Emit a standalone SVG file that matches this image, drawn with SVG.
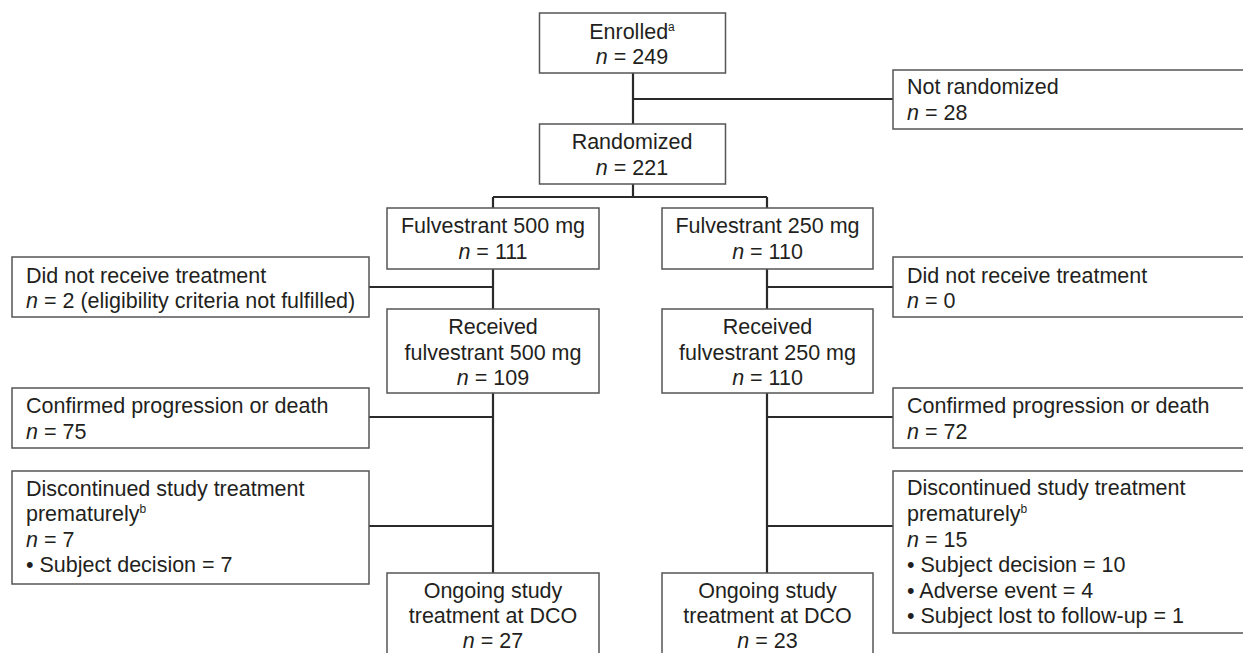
<svg xmlns="http://www.w3.org/2000/svg" width="1243" height="653" viewBox="0 0 1243 653">
<style>
.box{fill:#fff;stroke:#555;stroke-width:1.5}
.ln{stroke:#2a2a2a;stroke-width:2.2;fill:none}
text{font-family:"Liberation Sans",Arial,sans-serif;font-size:21.5px;fill:#231f20}
.c{text-anchor:middle}
.i{font-style:italic}
.sup{font-size:12px}
</style>
<rect width="1243" height="653" fill="#fff"/>
<g id="connectors">
<path class="ln" d="M633,73V124M633,99H893M633,184V197M493,197H767M493,197V208M767,197V208"/>
<path class="ln" d="M493,269V309M369,287H493M767,269V309M767,287H893"/>
<path class="ln" d="M493,393V573M369,417H493M369,526H493M767,393V573M767,417H893M767,526H893"/>
</g>
<g id="enrolled">
<rect class="box" x="539.5" y="13" width="186" height="60"/>
<text class="c" x="632" y="39">Enrolled<tspan class="sup" dy="-8">a</tspan></text>
<text class="c" x="632" y="64"><tspan class="i">n</tspan> = 249</text>
</g>
<g id="not-randomized">
<rect class="box" x="893" y="70" width="360" height="59"/>
<text x="907" y="94">Not randomized</text>
<text x="907" y="120"><tspan class="i">n</tspan> = 28</text>
</g>
<g id="randomized">
<rect class="box" x="539.5" y="124" width="186" height="60"/>
<text class="c" x="632" y="149">Randomized</text>
<text class="c" x="632" y="175"><tspan class="i">n</tspan> = 221</text>
</g>
<g id="fulv500">
<rect class="box" x="387" y="208" width="212" height="61"/>
<text class="c" x="493" y="233">Fulvestrant 500 mg</text>
<text class="c" x="493" y="259"><tspan class="i">n</tspan> = 111</text>
</g>
<g id="fulv250">
<rect class="box" x="662" y="208" width="211" height="61"/>
<text class="c" x="767.5" y="233">Fulvestrant 250 mg</text>
<text class="c" x="767.5" y="259"><tspan class="i">n</tspan> = 110</text>
</g>
<g id="no-treat-left">
<rect class="box" x="12" y="257" width="357" height="60"/>
<text x="26" y="283">Did not receive treatment</text>
<text x="26" y="308"><tspan class="i">n</tspan> = 2 (eligibility criteria not fulfilled)</text>
</g>
<g id="no-treat-right">
<rect class="box" x="893" y="257" width="360" height="60"/>
<text x="907" y="283">Did not receive treatment</text>
<text x="907" y="308"><tspan class="i">n</tspan> = 0</text>
</g>
<g id="recv500">
<rect class="box" x="387" y="309" width="212" height="84"/>
<text class="c" x="493" y="334">Received</text>
<text class="c" x="493" y="360">fulvestrant 500 mg</text>
<text class="c" x="493" y="385"><tspan class="i">n</tspan> = 109</text>
</g>
<g id="recv250">
<rect class="box" x="662" y="309" width="211" height="84"/>
<text class="c" x="767.5" y="334">Received</text>
<text class="c" x="767.5" y="360">fulvestrant 250 mg</text>
<text class="c" x="767.5" y="385"><tspan class="i">n</tspan> = 110</text>
</g>
<g id="prog-left">
<rect class="box" x="12" y="388" width="357" height="60"/>
<text x="26" y="413">Confirmed progression or death</text>
<text x="26" y="439"><tspan class="i">n</tspan> = 75</text>
</g>
<g id="prog-right">
<rect class="box" x="893" y="388" width="360" height="60"/>
<text x="907" y="413">Confirmed progression or death</text>
<text x="907" y="439"><tspan class="i">n</tspan> = 72</text>
</g>
<g id="disc-left">
<rect class="box" x="12" y="471" width="357" height="113"/>
<text x="26" y="496">Discontinued study treatment</text>
<text x="26" y="521">prematurely<tspan class="sup" dy="-8">b</tspan></text>
<text x="26" y="547"><tspan class="i">n</tspan> = 7</text>
<text x="26" y="572">• Subject decision = 7</text>
</g>
<g id="disc-right">
<rect class="box" x="893" y="471" width="360" height="162"/>
<text x="907" y="495">Discontinued study treatment</text>
<text x="907" y="521">prematurely<tspan class="sup" dy="-8">b</tspan></text>
<text x="907" y="547"><tspan class="i">n</tspan> = 15</text>
<text x="907" y="572">• Subject decision = 10</text>
<text x="907" y="598">• Adverse event = 4</text>
<text x="907" y="623">• Subject lost to follow-up = 1</text>
</g>
<g id="ongoing500">
<rect class="box" x="387" y="573" width="212" height="90"/>
<text class="c" x="493" y="598">Ongoing study</text>
<text class="c" x="493" y="623">treatment at DCO</text>
<text class="c" x="493" y="648"><tspan class="i">n</tspan> = 27</text>
</g>
<g id="ongoing250">
<rect class="box" x="662" y="573" width="211" height="90"/>
<text class="c" x="767.5" y="598">Ongoing study</text>
<text class="c" x="767.5" y="623">treatment at DCO</text>
<text class="c" x="767.5" y="648"><tspan class="i">n</tspan> = 23</text>
</g>
</svg>
